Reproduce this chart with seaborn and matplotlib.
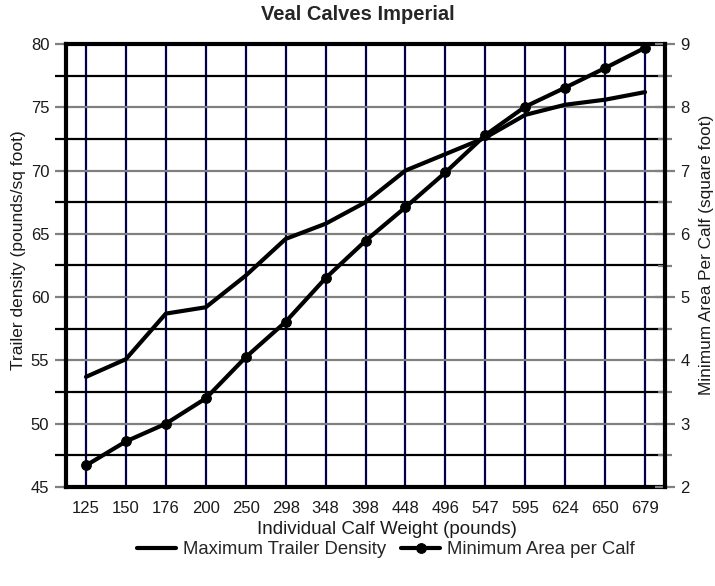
import matplotlib
matplotlib.use('Agg')
import matplotlib.pyplot as plt
from matplotlib.ticker import MultipleLocator
import pandas as pd
import seaborn as sns
import numpy as np

weights = ['125', '150', '176', '200', '250', '298', '348', '398', '448', '496',
           '547', '595', '624', '650', '679']
trailer_density = [53.7, 55.1, 58.7, 59.2, 61.7, 64.6, 65.8, 67.5, 70.0, 71.3,
                   72.6, 74.4, 75.2, 75.6, 76.2]
min_area = [2.34, 2.72, 3.00, 3.40, 4.05, 4.61, 5.30, 5.89, 6.42, 6.97,
            7.56, 8.01, 8.31, 8.62, 8.94]

sns.set_style('white')
plt.rcParams['font.family'] = ['Liberation Sans', 'DejaVu Sans']
plt.rcParams['font.size'] = 12

df = pd.DataFrame({'weight': weights, 'density': trailer_density, 'area': min_area})

navy = '#00004e'
gray = '#808080'
txt = '#1a1a1a'

fig = plt.figure(figsize=(7.15, 5.86), dpi=100)
ax = fig.add_axes([66 / 715, 1 - 487 / 586, 599 / 715, 443 / 586])
ax2 = ax.twinx()

sns.lineplot(data=df, x='weight', y='density', ax=ax, color='black', lw=3,
             label='Maximum Trailer Density', legend=False, zorder=5)
sns.lineplot(data=df, x='weight', y='area', ax=ax2, color='black', lw=3,
             marker='o', markersize=7, markeredgecolor='black',
             label='Minimum Area per Calf', legend=False, zorder=5)

ax.set_xlim(-0.5, 14.5)
ax.set_ylim(45, 80)
ax2.set_ylim(2, 9)

ax.yaxis.set_major_locator(MultipleLocator(5))
ax.yaxis.set_minor_locator(MultipleLocator(2.5))
ax2.yaxis.set_major_locator(MultipleLocator(1))
ax2.yaxis.set_minor_locator(MultipleLocator(0.5))

# grid: gray at majors, black at half steps, navy verticals
ax.set_axisbelow(True)
ax.grid(False)
ax2.grid(False)
ax.grid(axis='y', which='major', color=gray, lw=1.6)
ax.grid(axis='y', which='minor', color='black', lw=1.6)
ax.grid(axis='x', which='major', color=navy, lw=1.6)

ax.tick_params(axis='x', which='major', direction='out', length=6, width=1.6,
               color=navy, pad=4, labelsize=12, labelcolor=txt)
ax.tick_params(axis='y', which='major', direction='out', length=8, width=1.6,
               color=gray, pad=4, labelsize=12, labelcolor=txt, left=True)
ax.tick_params(axis='y', which='minor', direction='out', length=8, width=1.6,
               color='black', left=True)
ax2.tick_params(axis='y', which='major', direction='inout', length=14, width=1.6,
                color=gray, pad=4, labelsize=12, labelcolor=txt, right=True)
ax2.tick_params(axis='y', which='minor', direction='inout', length=10, width=1.6,
                color=gray, right=True)

for s in ['left', 'bottom', 'top']:
    ax.spines[s].set_visible(True)
    ax.spines[s].set_color('black')
    ax.spines[s].set_linewidth(3)
ax.spines['right'].set_visible(False)
for s in ['left', 'bottom', 'top']:
    ax2.spines[s].set_visible(False)
ax2.spines['right'].set_visible(True)
ax2.spines['right'].set_color('black')
ax2.spines['right'].set_linewidth(3)

ax.set_xlabel('Individual Calf Weight (pounds)', fontsize=13.5, color=txt)
ax.xaxis.set_label_coords(0.536, -0.077)
ax.set_ylabel('Trailer density (pounds/sq foot)', fontsize=12.5, color=txt)
ax.yaxis.set_label_coords(-0.066, 0.535)
ax2.set_ylabel('Minimum Area Per Calf (square foot)', fontsize=12.4, color=txt)
ax2.yaxis.set_label_coords(1.057, 0.525)

fig.suptitle('Veal Calves Imperial', fontsize=14.5, fontweight='bold', y=0.992)

h1, l1 = ax.get_legend_handles_labels()
h2, l2 = ax2.get_legend_handles_labels()
fig.legend(h1 + h2, l1 + l2, loc='center', bbox_to_anchor=(0.54, 0.062), ncol=2,
           frameon=False, fontsize=13.3, handlelength=2.1, handletextpad=0.4,
           columnspacing=0.8)

fig.savefig('out.png', dpi=100)
